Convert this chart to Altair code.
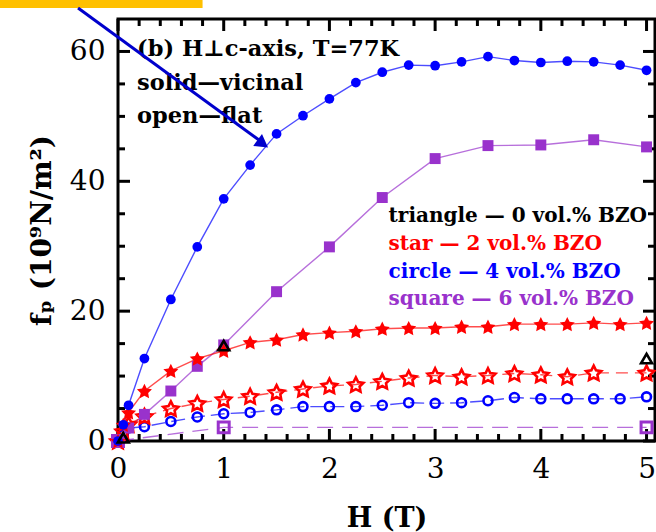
import altair as alt
import pandas as pd

# ---------------- data ----------------
# solid = vicinal, open = flat
H_circ_solid = [0, 0.05, 0.1, 0.25, 0.5, 0.75, 1.0, 1.25, 1.5, 1.75, 2.0, 2.25, 2.5, 2.75,
                3.0, 3.25, 3.5, 3.75, 4.0, 4.25, 4.5, 4.75, 5.0]
fp_circ_solid = [0, 2.5, 5.5, 12.7, 21.8, 29.9, 37.3, 42.5, 47.3, 50.1, 52.7, 55.2, 56.8, 57.9,
                 57.8, 58.4, 59.2, 58.6, 58.3, 58.5, 58.4, 57.9, 57.1]

H_sq_solid = [0, 0.1, 0.25, 0.5, 0.75, 1.0, 1.5, 2.0, 2.5, 3.0, 3.5, 4.0, 4.5, 5.0]
fp_sq_solid = [0, 2.0, 4.1, 7.7, 11.5, 14.8, 23.0, 29.9, 37.5, 43.5, 45.5, 45.6, 46.4, 45.3]

H_star_solid = [0, 0.05, 0.1, 0.25, 0.5, 0.75, 1.0, 1.25, 1.5, 1.75, 2.0, 2.25, 2.5, 2.75,
                3.0, 3.25, 3.5, 3.75, 4.0, 4.25, 4.5, 4.75, 5.0]
fp_star_solid = [0, 2.5, 4.4, 7.7, 10.8, 12.7, 13.9, 15.2, 15.6, 16.4, 16.7, 16.9, 17.3, 17.4,
                 17.4, 17.6, 17.6, 18.0, 18.0, 18.0, 18.2, 18.0, 18.2]

H_star_open = [0, 0.05, 0.1, 0.25, 0.5, 0.75, 1.0, 1.25, 1.5, 1.75, 2.0, 2.25, 2.5, 2.75,
               3.0, 3.25, 3.5, 3.75, 4.0, 4.25, 4.5, 5.0]
fp_star_open = [0, 1.5, 2.6, 3.8, 5.0, 5.8, 6.4, 6.9, 7.5, 8.0, 8.5, 8.7, 9.2, 9.7,
                10.1, 9.9, 10.1, 10.4, 10.2, 9.9, 10.5, 10.5]

H_circ_open = [0, 0.05, 0.1, 0.25, 0.5, 0.75, 1.0, 1.25, 1.5, 1.75, 2.0, 2.25, 2.5, 2.75,
               3.0, 3.25, 3.5, 3.75, 4.0, 4.25, 4.5, 4.75, 5.0]
fp_circ_open = [0, 1.0, 2.0, 2.2, 3.0, 3.7, 4.2, 4.4, 4.8, 5.3, 5.3, 5.3, 5.5, 5.9,
                5.8, 5.9, 6.2, 6.7, 6.5, 6.5, 6.5, 6.5, 6.8]

H_sq_open = [0, 1.0, 5.0]
fp_sq_open = [0, 2.1, 2.1]

H_tri = [0.05, 1.0, 5.0]
fp_tri = [0.5, 14.7, 12.7]

# axis ticks
x_major = [0, 1, 2, 3, 4, 5]
x_minor = [0.2, 0.4, 0.6, 0.8, 1.2, 1.4, 1.6, 1.8, 2.2, 2.4, 2.6, 2.8,
           3.2, 3.4, 3.6, 3.8, 4.2, 4.4, 4.6, 4.8]
y_major = [0, 20, 40, 60]
y_minor = [5, 10, 15, 25, 30, 35, 45, 50, 55]

# annotations
note_text = ["(b) H\u22a5c-axis, T=77K", "solid\u2014vicinal", "open\u2014flat"]
note_H = [0.18, 0.18, 0.18]
note_fp = [60.4, 55.1, 50.1]

legend_text = ["triangle \u2014 0 vol.% BZO", "star \u2014 2 vol.% BZO",
               "circle \u2014 4 vol.% BZO", "square \u2014 6 vol.% BZO"]
legend_color = ["black", "#FF0000", "#0000FF", "#9932CC"]
legend_H = [2.56, 2.56, 2.56, 2.56]
legend_fp = [34.7, 30.3, 26.1, 21.9]

# yellow box and arrow (data coordinates)
box_H = [-1.12, 0.80]
box_fp = [66.7, 68.0]
arrow_H = [-0.378, 1.33]
arrow_fp = [66.7, 46.4]
arrow_head_H = [1.37]
arrow_head_fp = [45.8]

# ---------------- chart ----------------
FONT = "DejaVu Serif"
BLUE, RED, PURPLE = "#0000FF", "#FF0000", "#9932CC"
STAR = ("M0,-0.905L0.2939,-0.3095L0.9511,-0.214L0.4755,0.2495L0.5878,0.904L0,0.595"
        "L-0.5878,0.904L-0.4755,0.2495L-0.9511,-0.214L-0.2939,-0.3095Z")
W, HT = 537, 422
xs = alt.Scale(domain=[0, 5.08], nice=False, zero=False)
ys = alt.Scale(domain=[0, 65], nice=False, zero=False)

# main axes: labels and titles only (ticks are drawn inward as rules)
x_axis = alt.Axis(values=x_major, tickSize=0, domain=False, grid=False,
                  labelFont=FONT, labelFontSize=28, labelColor="black", labelPadding=14,
                  labelFlush=False, format="d", title="H (T)", titleFont=FONT,
                  titleFontSize=27, titleFontWeight="bold", titleColor="black",
                  titlePadding=22)
y_axis = alt.Axis(values=y_major, tickSize=0, domain=False, grid=False,
                  labelFont=FONT, labelFontSize=28, labelColor="black", labelPadding=13,
                  labelFlush=False, format="d",
                  title="f\u209a (10\u2079N/m\u00b2)", titleFont=FONT,
                  titleFontSize=28, titleFontWeight="bold", titleColor="black",
                  titlePadding=13)


def df(h, f):
    return pd.DataFrame({"H": h, "fp": f})


def X():
    return alt.X("H:Q", scale=xs, axis=x_axis)


def Y():
    return alt.Y("fp:Q", scale=ys, axis=y_axis)


def line(h, f, color, dash=None):
    kw = dict(color=color, strokeWidth=1.4, opacity=0.7)
    if dash:
        kw["strokeDash"] = dash
    return alt.Chart(df(h, f)).mark_line(**kw).encode(x=X(), y=Y())


def pts(h, f, shape, color, size, filled, sw=2.5):
    if filled:
        m = alt.Chart(df(h, f)).mark_point(shape=shape, size=size, filled=True,
                                           color=color, opacity=1)
    else:
        m = alt.Chart(df(h, f)).mark_point(shape=shape, size=size, filled=False,
                                           color=color, strokeWidth=sw, opacity=1)
    return m.encode(x=X(), y=Y())


def xticks(vals, length):
    d = pd.DataFrame({"H": vals})
    bottom = alt.Chart(d).mark_rule(color="black", strokeWidth=3).encode(
        x=X(), y=alt.value(HT), y2=alt.value(HT - length))
    top = alt.Chart(d).mark_rule(color="black", strokeWidth=3).encode(
        x=X(), y=alt.value(0), y2=alt.value(length))
    return [bottom, top]


def yticks(vals, length):
    d = pd.DataFrame({"fp": vals})
    left = alt.Chart(d).mark_rule(color="black", strokeWidth=3).encode(
        y=Y(), x=alt.value(0), x2=alt.value(length))
    right = alt.Chart(d).mark_rule(color="black", strokeWidth=3).encode(
        y=Y(), x=alt.value(W), x2=alt.value(W - length))
    return [left, right]


ticks = xticks(x_major, 12) + xticks(x_minor, 7) + yticks(y_major, 12) + yticks(y_minor, 7)

lines = [
    line(H_circ_solid, fp_circ_solid, BLUE),
    line(H_sq_solid, fp_sq_solid, PURPLE),
    line(H_star_solid, fp_star_solid, RED),
    line(H_star_open, fp_star_open, RED, [12, 7]),
    line(H_circ_open, fp_circ_open, BLUE, [14, 6]),
    line(H_sq_open, fp_sq_open, PURPLE, [16, 9]),
]

markers = [
    pts(H_circ_open, fp_circ_open, "circle", BLUE, 80, False, 2.6),
    pts(H_star_open, fp_star_open, STAR, RED, 250, False, 2.6),
    pts(H_sq_open, fp_sq_open, "square", PURPLE, 120, False, 3),
    pts(H_sq_solid, fp_sq_solid, "square", PURPLE, 120, True),
    pts(H_star_solid, fp_star_solid, STAR, RED, 250, True),
    pts(H_circ_solid, fp_circ_solid, "circle", BLUE, 95, True),
    pts(H_tri, fp_tri, "triangle-up", "black", 120, False, 2.6),
]

notes = alt.Chart(pd.DataFrame({"H": note_H, "fp": note_fp, "t": note_text})).mark_text(
    align="left", baseline="middle", font=FONT, fontSize=22.5, fontWeight="bold", color="black"
).encode(x=X(), y=Y(), text="t:N")

legend = alt.Chart(pd.DataFrame({"H": legend_H, "fp": legend_fp, "t": legend_text,
                                 "c": legend_color})).mark_text(
    align="left", baseline="middle", font=FONT, fontSize=20, fontWeight="bold"
).encode(x=X(), y=Y(), text="t:N", color=alt.Color("c:N", scale=None, legend=None))

box = alt.Chart(pd.DataFrame({"H": [box_H[0]], "H2": [box_H[1]],
                              "fp": [box_fp[0]], "fp2": [box_fp[1]]})).mark_rect(
    color="#FFC000").encode(x=X(), x2="H2:Q", y=Y(), y2="fp2:Q")

arrow = alt.Chart(df(arrow_H, arrow_fp)).mark_line(color="#0000CC", strokeWidth=3).encode(
    x=X(), y=Y())
arrow_head = alt.Chart(df(arrow_head_H, arrow_head_fp)).mark_point(
    shape="triangle-up", angle=126, size=220, filled=True, color="#0000CC", opacity=1
).encode(x=X(), y=Y())

chart = alt.layer(*ticks, *lines, *markers, notes, legend, box, arrow,
                  arrow_head).properties(
    width=W, height=HT,
    autosize=alt.AutoSizeParams(type="none"),
    padding={"left": 118, "top": 19, "right": 1, "bottom": 91},
    background="white",
).configure_view(stroke="black", strokeWidth=3)

chart.save("out.html", embed_options={"renderer": "svg", "actions": False})
